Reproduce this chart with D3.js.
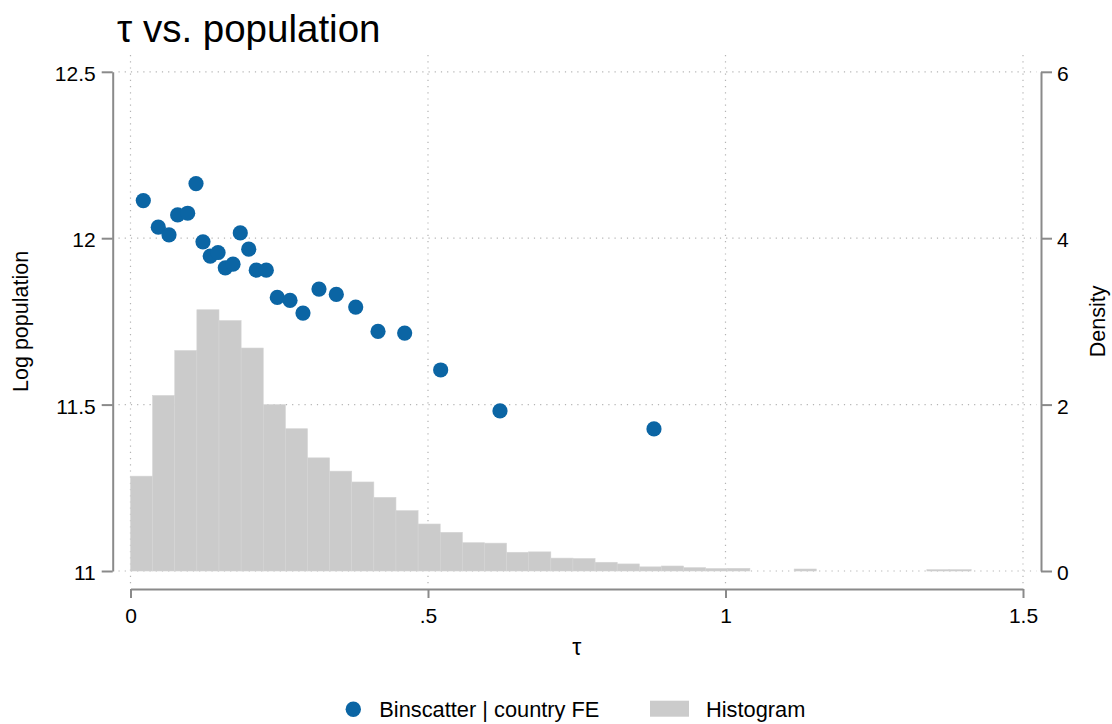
<!DOCTYPE html>
<html>
<head>
<meta charset="utf-8">
<script src="https://cdn.jsdelivr.net/npm/d3@7"></script>
<style>
  body { margin: 0; background: #fff; }
  svg { display: block; }
  text { font-family: "Liberation Sans", Arial, Helvetica, sans-serif; fill: #000; }
</style>
</head>
<body>
<svg id="chart" width="1112" height="724"></svg>
<script>
// Binned scatter: mean tau per bin and mean log population (country FE absorbed)
const binTau = [0.0215, 0.0467, 0.0647, 0.0793, 0.0961, 0.1101, 0.1218, 0.1341, 0.1471, 0.1593,
                0.1723, 0.1845, 0.1987, 0.2114, 0.2282, 0.2467, 0.2681, 0.2899, 0.3168, 0.3459,
                0.3785, 0.4160, 0.4608, 0.5213, 0.6210, 0.8798];
const binLogPop = [12.113, 12.033, 12.010, 12.070, 12.075, 12.164, 11.989, 11.946, 11.957, 11.911,
                   11.922, 12.016, 11.967, 11.904, 11.904, 11.822, 11.813, 11.775, 11.847, 11.831,
                   11.793, 11.720, 11.715, 11.604, 11.481, 11.427];

// Histogram of tau (density), equal-width bins starting at histStart
const histStart = 0;
const histBinWidth = 0.03718;
const histDensity = [1.14, 2.11, 2.65, 3.14, 3.01, 2.68, 2.00, 1.71, 1.36, 1.20,
                     1.07, 0.885, 0.725, 0.565, 0.465, 0.34, 0.335, 0.225, 0.23, 0.155,
                     0.15, 0.105, 0.085, 0.05, 0.06, 0.04, 0.03, 0.032, 0, 0,
                     0.024, 0, 0, 0, 0, 0, 0.016, 0.016];

// Axis ticks
const xTicks = [0, 0.5, 1, 1.5];
const xTickLabels = ["0", ".5", "1", "1.5"];
const yLeftTicks = [11, 11.5, 12, 12.5];
const yLeftTickLabels = ["11", "11.5", "12", "12.5"];
const yRightTicks = [0, 2, 4, 6];
const yRightTickLabels = ["0", "2", "4", "6"];

const titleText = "τ vs. population";
const xTitle = "τ";
const yLeftTitle = "Log population";
const yRightTitle = "Density";
const legendLabels = ["Binscatter | country FE", "Histogram"];

const blue = "#0b65a4";
const histFill = "#cbcbcb";
const axisColor = "#8a8a8a";
const gridColor = "#b4b4b4";

const svg = d3.select("#chart");
svg.append("rect").attr("width", 1112).attr("height", 724).attr("fill", "#fff");

const x = d3.scaleLinear().domain([0, 1.5]).range([130.5, 1023]);
const yL = d3.scaleLinear().domain([11, 12.5]).range([571, 71.8]);
const yR = d3.scaleLinear().domain([0, 6]).range([571, 71.8]);

// plot region used for gridlines
const region = { x0: 118.5, x1: 1036.5, y0: 55, y1: 584 };

// gridlines
const grid = svg.append("g");
grid.selectAll("line.h").data(yLeftTicks).join("line")
  .attr("x1", region.x0).attr("x2", region.x1)
  .attr("y1", d => yL(d)).attr("y2", d => yL(d))
  .attr("stroke", gridColor).attr("stroke-width", 1.2).attr("stroke-dasharray", "1.2 5");
grid.selectAll("line.v").data(xTicks).join("line")
  .attr("y1", region.y0).attr("y2", region.y1)
  .attr("x1", d => x(d)).attr("x2", d => x(d))
  .attr("stroke", gridColor).attr("stroke-width", 1.2).attr("stroke-dasharray", "1.2 5");

// histogram bars
svg.append("g").selectAll("rect").data(histDensity).join("rect")
  .attr("x", (d, i) => x(histStart + i * histBinWidth))
  .attr("width", (d, i) => x(histStart + (i + 1) * histBinWidth) - x(histStart + i * histBinWidth))
  .attr("y", d => yR(d))
  .attr("height", d => yR(0) - yR(d))
  .attr("fill", histFill)
  .attr("stroke", "#d4d4d4")
  .attr("stroke-width", 0.6);

// binscatter points
svg.append("g").selectAll("circle").data(binTau).join("circle")
  .attr("cx", d => x(d))
  .attr("cy", (d, i) => yL(binLogPop[i]))
  .attr("r", 7.6)
  .attr("fill", blue);

// axes
function styleAxis(g) {
  g.selectAll(".domain").attr("stroke", axisColor).attr("stroke-width", 2);
  g.selectAll(".tick line").attr("stroke", axisColor).attr("stroke-width", 2);
  g.selectAll(".tick text").attr("font-size", 21).attr("fill", "#000")
    .attr("font-family", '"Liberation Sans", Arial, Helvetica, sans-serif');
}

const axL = svg.append("g").attr("transform", "translate(112.7,0)")
  .call(d3.axisLeft(yL).tickValues(yLeftTicks)
    .tickFormat((d, i) => yLeftTickLabels[i]).tickSize(11).tickSizeOuter(0).tickPadding(6));
styleAxis(axL);
axL.selectAll(".tick text").attr("dy", "0.4em");

const axR = svg.append("g").attr("transform", "translate(1041,0)")
  .call(d3.axisRight(yR).tickValues(yRightTicks)
    .tickFormat((d, i) => yRightTickLabels[i]).tickSize(11).tickSizeOuter(0).tickPadding(5));
styleAxis(axR);
axR.selectAll(".tick text").attr("dy", "0.4em");

const axB = svg.append("g").attr("transform", "translate(0,589)")
  .call(d3.axisBottom(x).tickValues(xTicks)
    .tickFormat((d, i) => xTickLabels[i]).tickSize(9).tickSizeOuter(0).tickPadding(10));
styleAxis(axB);

// titles
svg.append("text").attr("x", 117).attr("y", 42)
  .attr("font-size", 38.5).text(titleText);

svg.append("text").attr("x", (x.range()[0] + x.range()[1]) / 2).attr("y", 655)
  .attr("text-anchor", "middle").attr("font-size", 23).text(xTitle);

svg.append("text")
  .attr("transform", `translate(28,${(yL.range()[0] + yL.range()[1]) / 2}) rotate(-90)`)
  .attr("text-anchor", "middle").attr("font-size", 21.5).text(yLeftTitle);

svg.append("text")
  .attr("transform", `translate(1105,${(yR.range()[0] + yR.range()[1]) / 2}) rotate(-90)`)
  .attr("text-anchor", "middle").attr("font-size", 21.5).text(yRightTitle);

// legend
const lg = svg.append("g");
lg.append("circle").attr("cx", 353.3).attr("cy", 709.3).attr("r", 7.7).attr("fill", blue);
lg.append("text").attr("x", 379.3).attr("y", 716.7).attr("font-size", 21.8).text(legendLabels[0]);
lg.append("rect").attr("x", 650).attr("y", 700.7).attr("width", 39).attr("height", 16).attr("fill", histFill);
lg.append("text").attr("x", 706).attr("y", 716.7).attr("font-size", 21.8).text(legendLabels[1]);
</script>
</body>
</html>
